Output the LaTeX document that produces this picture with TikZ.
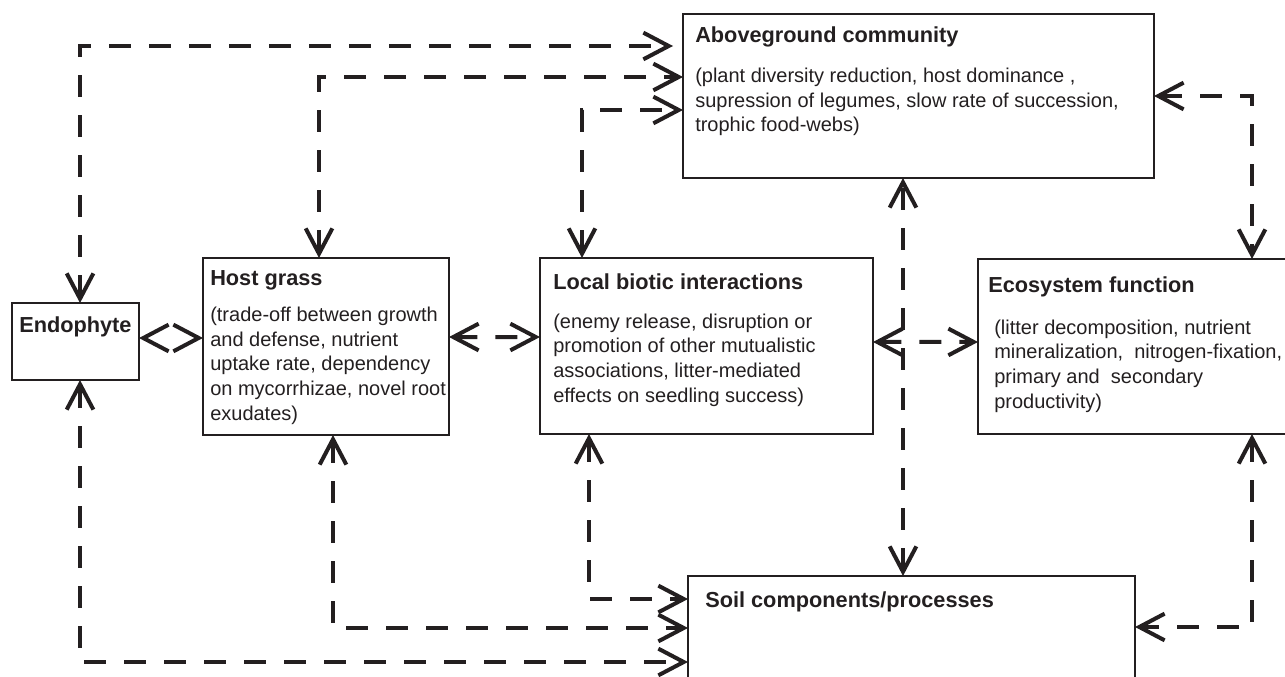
\documentclass[tikz,border=0pt]{standalone}
\usepackage{fontspec}
\setmainfont{Liberation Sans}
\usetikzlibrary{arrows.meta}
\definecolor{ink}{RGB}{35,31,32}
\begin{document}
\begin{tikzpicture}[x=0.75pt,y=-0.75pt,
  box/.style={draw=ink, line width=1.5pt, anchor=north west, inner sep=0pt, outer sep=0pt},
  ttl/.style={anchor=base west, inner sep=0pt, text=ink, font=\fontsize{16.3}{19}\selectfont\bfseries},
  body/.style={anchor=base west, inner sep=0pt, align=left, text=ink, font=\fontsize{15}{18.4}\selectfont},
  conn/.style={draw=ink, line width=3pt, dash pattern=on 16.5pt off 13.5pt, {Straight Barb[length=19pt,width=20pt]}-{Straight Barb[length=19pt,width=20pt]}}]
\useasboundingbox (0,0) rectangle (1285,677);
\clip (0,0) rectangle (1285,677);
% boxes
\node[box, minimum width=353.25pt, minimum height=123pt] (ag) at (683,14) {};
\node[box, minimum width=95.25pt, minimum height=57.75pt] (endo) at (12,303) {};
\node[box, minimum width=184.5pt, minimum height=132.75pt] (host) at (203,258) {};
\node[box, minimum width=249.75pt, minimum height=132pt] (local) at (540,258) {};
\node[box, minimum width=241.5pt, minimum height=131.25pt] (eco) at (978,259) {};
\node[box, minimum width=335.25pt, minimum height=108pt] (soil) at (688,576) {};
% texts (multi-line bodies are placed by the baseline of their last line)
\node[ttl] (agT) at (695,43) {Aboveground community};
\node[body] (agB) at (695,132) {(plant diversity reduction, host dominance ,\\supression of legumes, slow rate of succession,\\trophic food-webs)};
\node[ttl] (endoT) at (19,332) {Endophyte};
\node[ttl] (hostT) at (210,286) {Host grass};
\node[body] (hostB) at (210,420) {(trade-off between growth\\and defense, nutrient\\uptake rate, dependency\\on mycorrhizae, novel root\\exudates)};
\node[ttl] (localT) at (553,290) {Local biotic interactions};
\node[body] (localB) at (553,402) {(enemy release, disruption or\\promotion of other mutualistic\\associations, litter-mediated\\effects on seedling success)};
\node[ttl] (ecoT) at (988,293) {Ecosystem function};
\node[body] (ecoB) at (994,408) {(litter decomposition, nutrient\\mineralization,\ \ nitrogen-fixation,\\primary and\ \ secondary\\productivity)};
\node[ttl] (soilT) at (705,607) {Soil components/processes};
% connectors
\draw[conn] ([xshift=3.4pt]endo.north) |- ([xshift=-7.5pt,yshift=-24pt]ag.north west);
\draw[conn] ([xshift=87pt]host.north west) |- ([yshift=-47.25pt]ag.north west);
\draw[conn] ([xshift=31.5pt]local.north west) |- ([yshift=-72pt]ag.north west);
\draw[conn] (ag.east) -| ([xshift=205.5pt]eco.north west);
\draw[conn] ([xshift=161.25pt]soil.north west) -- ++(0,-398);
\draw[conn] ([xshift=205.5pt]eco.south west) |- ([yshift=-38.25pt]soil.north east);
\draw[conn] ([xshift=3.4pt]endo.south) |- ([yshift=-64.5pt]soil.north west);
\draw[conn] ([xshift=97.5pt]host.south west) |- ([yshift=-39pt]soil.north west);
\draw[conn] ([xshift=36.75pt]local.south west) |- ([yshift=-17.25pt]soil.north west);
\draw[conn, dash pattern=on 0pt off 200pt] ([yshift=2.6pt]endo.east) -- ([yshift=6.4pt]host.west);
\draw[conn] ([yshift=7.1pt]host.east) -- ([yshift=6.75pt]local.west);
\draw[conn] ([yshift=3pt]local.east) -- ([yshift=3.4pt]eco.west);
\end{tikzpicture}
\end{document}
